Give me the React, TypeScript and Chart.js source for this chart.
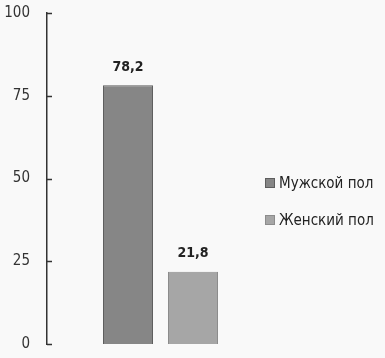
import React, { useEffect, useRef } from "react";
import { Chart, registerables } from "chart.js";

Chart.register(...registerables);

const categories = ["Пол"];
const seriesNames = ["Мужской пол", "Женский пол"];
const maleValues = [78.2];
const femaleValues = [21.8];
const yTicks = [0, 25, 50, 75, 100];

const FONT = "'DejaVu Sans Condensed', 'Noto Sans', sans-serif";
const fillColors = ["#868686", "#a6a6a6"];
const borderColors = ["#5e5e5e", "#8c8c8c"];

const fmt = (v: number) => v.toFixed(1).replace(".", ",");

const bgPlugin = {
  id: "bg",
  beforeDraw(chart: any) {
    const { ctx, width, height } = chart;
    ctx.save();
    ctx.fillStyle = "#f9f9f9";
    ctx.fillRect(0, 0, width, height);
    ctx.restore();
  },
};

const extrasPlugin = {
  id: "extras",
  afterDraw(chart: any) {
    const { ctx, chartArea } = chart;
    const y = chart.scales.y;
    ctx.save();
    // inner tick marks
    ctx.strokeStyle = "#333";
    ctx.lineWidth = 1.5;
    yTicks.forEach((t) => {
      const py = Math.round(y.getPixelForValue(t)) + 0.5;
      ctx.beginPath();
      ctx.moveTo(chartArea.left, py);
      ctx.lineTo(chartArea.left + 5, py);
      ctx.stroke();
    });
    // value labels
    ctx.fillStyle = "#222";
    ctx.font = `bold 14px ${FONT}`;
    ctx.textAlign = "center";
    ctx.textBaseline = "middle";
    chart.data.datasets.forEach((ds: any, i: number) => {
      const meta = chart.getDatasetMeta(i);
      meta.data.forEach((el: any, j: number) => {
        ctx.fillText(fmt(ds.data[j]), el.x, el.y - 18);
      });
    });
    // legend
    ctx.font = `15px ${FONT}`;
    ctx.textAlign = "left";
    const rows = [183, 220];
    chart.data.datasets.forEach((ds: any, i: number) => {
      const ry = rows[i];
      ctx.fillStyle = ds.backgroundColor;
      ctx.fillRect(265, ry - 5, 10, 10);
      ctx.strokeStyle = ds.borderColor;
      ctx.lineWidth = 1;
      ctx.strokeRect(265.5, ry - 4.5, 9, 9);
      ctx.fillStyle = "#222";
      ctx.fillText(ds.label, 279, ry + 1);
    });
    ctx.restore();
  },
};

export default function App() {
  const ref = useRef<HTMLCanvasElement>(null);
  useEffect(() => {
    document.body.style.margin = "0";
    const chart = new Chart(ref.current!, {
      type: "bar",
      data: {
        labels: categories,
        datasets: [
          {
            label: seriesNames[0],
            data: maleValues,
            backgroundColor: fillColors[0],
            borderColor: borderColors[0],
            borderWidth: 1,
          },
          {
            label: seriesNames[1],
            data: femaleValues,
            backgroundColor: fillColors[1],
            borderColor: borderColors[1],
            borderWidth: 1,
          },
        ],
      },
      options: {
        animation: false,
        responsive: false,
        maintainAspectRatio: false,
        datasets: { bar: { categoryPercentage: 0.5727, barPercentage: 0.769 } },
        layout: { padding: { left: 0, right: 111, top: 13, bottom: 14 } },
        plugins: { legend: { display: false }, tooltip: { enabled: false } },
        scales: {
          x: { display: false },
          y: {
            min: 0,
            max: 100,
            afterBuildTicks: (s: any) => {
              s.ticks = yTicks.map((v) => ({ value: v }));
            },
            afterFit: (s: any) => {
              s.width = 47;
              s.paddingTop = 0;
              s.paddingBottom = 0;
            },
            grid: { display: false, drawTicks: false },
            border: { display: true, color: "#333", width: 1.5 },
            ticks: {
              padding: 17,
              color: "#333",
              font: { family: FONT, size: 15 },
            },
          },
        },
      },
      plugins: [bgPlugin, extrasPlugin],
    });
    return () => chart.destroy();
  }, []);
  return <canvas ref={ref} width={385} height={358} style={{ display: "block" }} />;
}
